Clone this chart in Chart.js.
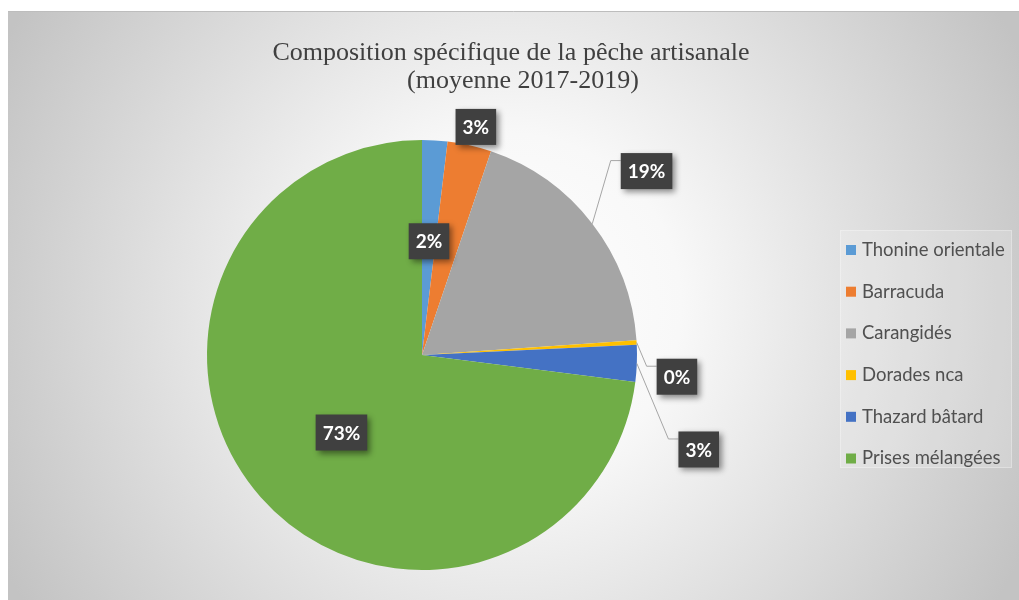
<!DOCTYPE html>
<html>
<head>
<meta charset="utf-8">
<script src="https://cdn.jsdelivr.net/npm/chart.js@4.4.1/dist/chart.umd.min.js"></script>
<style>
  html, body { margin: 0; padding: 0; background: #fff; }
  #wrap { width: 1019px; height: 600px; position: relative; }
</style>
</head>
<body>
<div id="wrap"><canvas id="pie" width="1019" height="600"></canvas></div>
<script>
const categories = ['Thonine orientale', 'Barracuda', 'Carangidés', 'Dorades nca', 'Thazard bâtard', 'Prises mélangées'];
const shares = [1.9, 3.3, 18.7, 0.35, 2.75, 73.0];
const pctLabels = ['2%', '3%', '19%', '0%', '3%', '73%'];
const sliceColours = ['#5B9BD5', '#ED7D31', '#A5A5A5', '#FFC000', '#4472C4', '#70AD47'];
const titleLines = ['Composition spécifique de la pêche artisanale', '(moyenne 2017-2019)'];

// where each data label sits: radius factor, angle shift (deg) from slice middle, leader line or not
const labelPlacement = [
  { f: 0.53, da: 0.1, leader: false },
  { f: 1.09, da: 0.5, leader: false },
  { f: 1.35, da: -1.7, leader: true },
  { f: 1.19, da: 8.2, leader: true },
  { f: 1.36, da: 16.6, leader: true },
  { f: 0.52, da: -2.5, leader: false }
];

const backdrop = {
  id: 'backdrop',
  beforeDraw(chart) {
    const ctx = chart.ctx, w = chart.width, h = chart.height;
    ctx.save();
    ctx.fillStyle = '#ffffff';
    ctx.fillRect(0, 0, w, h);
    const g = ctx.createRadialGradient(510, 305, 0, 510, 305, 570);
    g.addColorStop(0, '#ffffff');
    g.addColorStop(0.3, '#f8f8f8');
    g.addColorStop(1, '#c3c3c3');
    ctx.fillStyle = g;
    ctx.fillRect(8, 11, w - 8, h - 11);
    ctx.strokeStyle = '#bdbdbd';
    ctx.lineWidth = 1;
    ctx.beginPath();
    ctx.moveTo(8, 11.5);
    ctx.lineTo(w, 11.5);
    ctx.stroke();

    // title
    ctx.fillStyle = '#404040';
    ctx.font = '26px "Liberation Serif"';
    ctx.textAlign = 'center';
    ctx.textBaseline = 'alphabetic';
    ctx.fillText(titleLines[0], 511, 60);
    ctx.fillText(titleLines[1], 523, 88);
    ctx.restore();
  }
};

const dataLabels = {
  id: 'dataLabels',
  afterDatasetsDraw(chart) {
    const ctx = chart.ctx;
    const meta = chart.getDatasetMeta(0);
    meta.data.forEach((arc, i) => {
      const p = labelPlacement[i];
      const { x, y, startAngle, endAngle, outerRadius } =
        arc.getProps(['x', 'y', 'startAngle', 'endAngle', 'outerRadius'], true);
      const mid = (startAngle + endAngle) / 2;
      const a = mid + p.da * Math.PI / 180;
      const cx = x + Math.cos(a) * outerRadius * p.f;
      const cy = y + Math.sin(a) * outerRadius * p.f;
      ctx.save();
      ctx.font = 'bold 19px Lato';
      const tw = ctx.measureText(pctLabels[i]).width;
      const bw = tw + 14, bh = 36;
      const bx = cx - bw / 2, by = cy - bh / 2;
      if (p.leader) {
        const sx = x + Math.cos(mid) * outerRadius;
        const sy = y + Math.sin(mid) * outerRadius;
        const ly = by + 7.5;
        ctx.strokeStyle = '#a6a6a6';
        ctx.lineWidth = 1;
        ctx.beginPath();
        ctx.moveTo(sx, sy);
        ctx.lineTo(bx - 10, ly);
        ctx.lineTo(bx, ly);
        ctx.stroke();
      }
      ctx.shadowColor = 'rgba(0,0,0,0.45)';
      ctx.shadowBlur = 6;
      ctx.shadowOffsetX = 3;
      ctx.shadowOffsetY = 3;
      ctx.fillStyle = '#404040';
      ctx.fillRect(bx, by, bw, bh);
      ctx.shadowColor = 'transparent';
      ctx.fillStyle = '#ffffff';
      ctx.textAlign = 'center';
      ctx.textBaseline = 'middle';
      ctx.fillText(pctLabels[i], cx, cy + 1);
      ctx.restore();
    });
  }
};

const sideLegend = {
  id: 'sideLegend',
  afterDraw(chart) {
    const ctx = chart.ctx;
    ctx.save();
    ctx.fillStyle = 'rgba(255,255,255,0.18)';
    ctx.fillRect(840, 230, 172, 238);
    ctx.strokeStyle = 'rgba(255,255,255,0.3)';
    ctx.strokeRect(840.5, 230.5, 171, 237);
    ctx.font = '18.5px Lato';
    ctx.textBaseline = 'middle';
    ctx.textAlign = 'left';
    chart.data.labels.forEach((lab, i) => {
      const yy = 250 + i * 41.7;
      ctx.fillStyle = chart.data.datasets[0].backgroundColor[i];
      ctx.fillRect(846, yy - 5, 10, 10);
      ctx.fillStyle = '#505050';
      ctx.fillText(lab, 862, yy);
    });
    ctx.restore();
  }
};

new Chart(document.getElementById('pie'), {
  type: 'pie',
  data: {
    labels: categories,
    datasets: [{
      data: shares,
      backgroundColor: sliceColours,
      borderWidth: 0
    }]
  },
  options: {
    responsive: false,
    animation: false,
    layout: { padding: { left: 207, right: 382, top: 140, bottom: 30 } },
    plugins: {
      legend: { display: false },
      tooltip: { enabled: false }
    }
  },
  plugins: [backdrop, dataLabels, sideLegend]
});
</script>
</body>
</html>
